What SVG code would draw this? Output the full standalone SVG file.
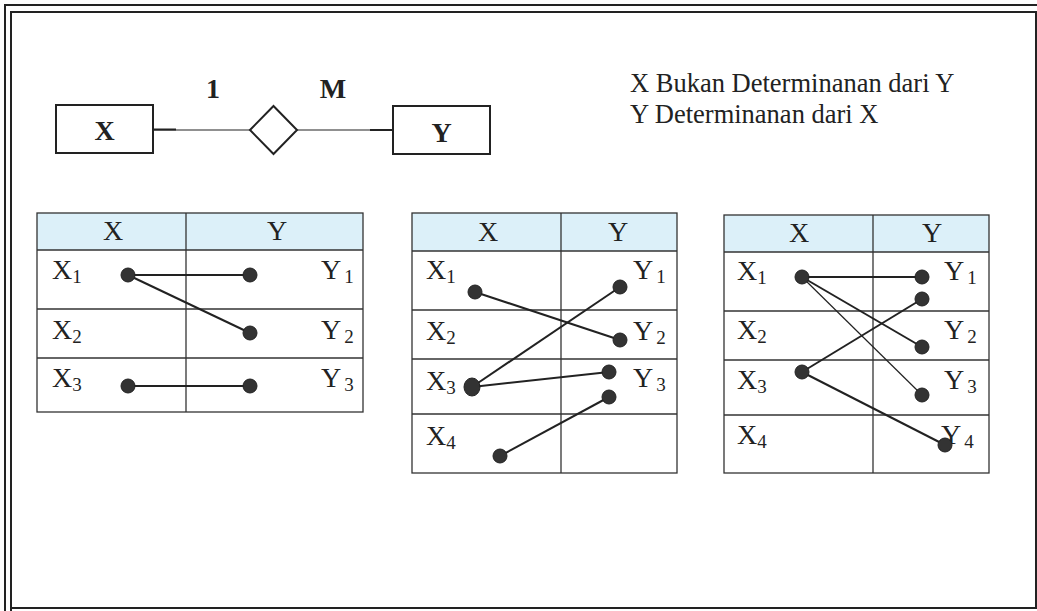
<svg xmlns="http://www.w3.org/2000/svg" width="1037" height="611" viewBox="0 0 1037 611">
<style>
.frame{fill:none;stroke:#222;stroke-width:2}
.box{fill:#fff;stroke:#222;stroke-width:2}
.grid{fill:none;stroke:#333;stroke-width:1.3}
.hdr{fill:#dcf0f9;stroke:none}
.t{font-family:"Liberation Serif","Times New Roman",serif;fill:#222}
.b{font-weight:bold;font-size:28px}
.cell{font-size:28px}
.sub{font-size:19px}
.ln{stroke:#222;stroke-width:2;fill:none}
.thin{stroke:#222;stroke-width:1.2;fill:none}
.dot{fill:#333;stroke:#222;stroke-width:1}
</style>
<rect width="1037" height="611" fill="#fff"/>
<g id="frame">
<path class="frame" d="M5,611 V5 H1037"/>
<path class="frame" d="M11,611 V12 H1037"/>
<path class="frame" d="M11,608 H1036 V12"/>
</g>
<g id="note">
<text class="t" x="630" y="92" font-size="26.5">X Bukan Determinanan dari Y</text>
<text class="t" x="630" y="123" font-size="26.5">Y Determinanan dari X</text>
</g>
<g id="er-connectors">
<line class="thin" x1="153" y1="130" x2="250" y2="130"/>
<line class="thin" x1="297" y1="130" x2="393" y2="130"/>
<line class="ln" x1="153" y1="129.5" x2="176" y2="129.5"/>
<line class="ln" x1="370" y1="130" x2="393" y2="130"/>
<text class="t b" x="213" y="98" text-anchor="middle">1</text>
<text class="t b" x="333" y="98" text-anchor="middle">M</text>
</g>
<g id="entity-x">
<rect class="box" x="56" y="105" width="97" height="48"/>
<text class="t b" x="104.5" y="140" text-anchor="middle" font-size="24">X</text>
</g>
<g id="relationship">
<polygon class="box" points="250,130 273.5,106 297,130 273.5,154"/>
</g>
<g id="entity-y">
<rect class="box" x="393" y="106" width="97" height="48"/>
<text class="t b" x="441.5" y="142" text-anchor="middle" font-size="24">Y</text>
</g>

<g id="table1">
<rect class="hdr" x="37" y="213" width="326" height="37"/>
<rect class="grid" x="37" y="213" width="326" height="199"/>
<line class="grid" x1="186" y1="213" x2="186" y2="412"/>
<line class="grid" x1="37" y1="250" x2="363" y2="250"/>
<line class="grid" x1="37" y1="309" x2="363" y2="309"/>
<line class="grid" x1="37" y1="358" x2="363" y2="358"/>
<text class="t cell" x="113" y="240" text-anchor="middle">X</text>
<text class="t cell" x="277" y="240" text-anchor="middle">Y</text>
<text class="t cell" x="52" y="279">X<tspan class="sub" dy="4">1</tspan></text>
<text class="t cell" x="52" y="339">X<tspan class="sub" dy="4">2</tspan></text>
<text class="t cell" x="52" y="387">X<tspan class="sub" dy="4">3</tspan></text>
<text class="t cell" x="321" y="279">Y<tspan class="sub" dy="4" dx="3">1</tspan></text>
<text class="t cell" x="321" y="339">Y<tspan class="sub" dy="4" dx="3">2</tspan></text>
<text class="t cell" x="321" y="387">Y<tspan class="sub" dy="4" dx="3">3</tspan></text>
</g>

<g id="table2">
<rect class="hdr" x="412" y="213" width="265" height="38"/>
<rect class="grid" x="412" y="213" width="265" height="260"/>
<line class="grid" x1="561" y1="213" x2="561" y2="473"/>
<line class="grid" x1="412" y1="251" x2="677" y2="251"/>
<line class="grid" x1="412" y1="310" x2="677" y2="310"/>
<line class="grid" x1="412" y1="359" x2="677" y2="359"/>
<line class="grid" x1="412" y1="414" x2="677" y2="414" stroke-width="2"/>
<text class="t cell" x="488" y="241" text-anchor="middle">X</text>
<text class="t cell" x="618" y="241" text-anchor="middle">Y</text>
<text class="t cell" x="426" y="279">X<tspan class="sub" dy="4">1</tspan></text>
<text class="t cell" x="426" y="340">X<tspan class="sub" dy="4">2</tspan></text>
<text class="t cell" x="426" y="390">X<tspan class="sub" dy="4">3</tspan></text>
<text class="t cell" x="426" y="445">X<tspan class="sub" dy="4">4</tspan></text>
<text class="t cell" x="633" y="279">Y<tspan class="sub" dy="4" dx="3">1</tspan></text>
<text class="t cell" x="633" y="340">Y<tspan class="sub" dy="4" dx="3">2</tspan></text>
<text class="t cell" x="633" y="387">Y<tspan class="sub" dy="4" dx="3">3</tspan></text>
</g>

<g id="table3">
<rect class="hdr" x="724" y="215" width="265" height="37"/>
<rect class="grid" x="724" y="215" width="265" height="258"/>
<line class="grid" x1="873" y1="215" x2="873" y2="473"/>
<line class="grid" x1="724" y1="252" x2="989" y2="252"/>
<line class="grid" x1="724" y1="311" x2="989" y2="311"/>
<line class="grid" x1="724" y1="360" x2="989" y2="360"/>
<line class="grid" x1="724" y1="415" x2="989" y2="415" stroke-width="2"/>
<text class="t cell" x="799" y="242" text-anchor="middle">X</text>
<text class="t cell" x="932" y="242" text-anchor="middle">Y</text>
<text class="t cell" x="737" y="280">X<tspan class="sub" dy="4">1</tspan></text>
<text class="t cell" x="737" y="339">X<tspan class="sub" dy="4">2</tspan></text>
<text class="t cell" x="737" y="389">X<tspan class="sub" dy="4">3</tspan></text>
<text class="t cell" x="737" y="444">X<tspan class="sub" dy="4">4</tspan></text>
<text class="t cell" x="944" y="280">Y<tspan class="sub" dy="4" dx="3">1</tspan></text>
<text class="t cell" x="944" y="339">Y<tspan class="sub" dy="4" dx="3">2</tspan></text>
<text class="t cell" x="944" y="389">Y<tspan class="sub" dy="4" dx="3">3</tspan></text>
<text class="t cell" x="941" y="444">Y<tspan class="sub" dy="4" dx="3">4</tspan></text>
</g>

<g id="connectors">
<line class="ln" x1="128" y1="275" x2="250" y2="275"/>
<line class="ln" x1="128" y1="275" x2="250" y2="333"/>
<line class="ln" x1="128" y1="386" x2="250" y2="386"/>
<line class="ln" x1="475" y1="292" x2="620" y2="340"/>
<line class="ln" x1="472" y1="387" x2="620" y2="287"/>
<line class="ln" x1="472" y1="387" x2="609" y2="372"/>
<line class="ln" x1="500" y1="456" x2="609" y2="397"/>
<line class="ln" x1="802" y1="277" x2="922" y2="277"/>
<line class="ln" x1="802" y1="277" x2="922" y2="347" stroke-width="2.4"/>
<line class="thin" x1="802" y1="277" x2="922" y2="395"/>
<line class="ln" x1="802" y1="372" x2="922" y2="299"/>
<line class="ln" x1="802" y1="372" x2="945" y2="445"/>
</g>

<g id="dots">
<circle class="dot" cx="128" cy="275" r="7"/>
<circle class="dot" cx="250" cy="275" r="7"/>
<circle class="dot" cx="250" cy="333" r="7"/>
<circle class="dot" cx="128" cy="386" r="7"/>
<circle class="dot" cx="250" cy="386" r="7"/>
<circle class="dot" cx="475" cy="292" r="7"/>
<circle class="dot" cx="620" cy="287" r="7"/>
<circle class="dot" cx="620" cy="340" r="7"/>
<ellipse class="dot" cx="472" cy="387" rx="8" ry="9"/>
<circle class="dot" cx="609" cy="372" r="7"/>
<circle class="dot" cx="609" cy="397" r="7"/>
<circle class="dot" cx="500" cy="456" r="7"/>
<circle class="dot" cx="802" cy="277" r="7"/>
<circle class="dot" cx="922" cy="277" r="7"/>
<circle class="dot" cx="922" cy="299" r="7"/>
<circle class="dot" cx="922" cy="347" r="7"/>
<circle class="dot" cx="922" cy="395" r="7"/>
<circle class="dot" cx="802" cy="372" r="7"/>
<circle class="dot" cx="945" cy="445" r="7"/>
</g>
</svg>
